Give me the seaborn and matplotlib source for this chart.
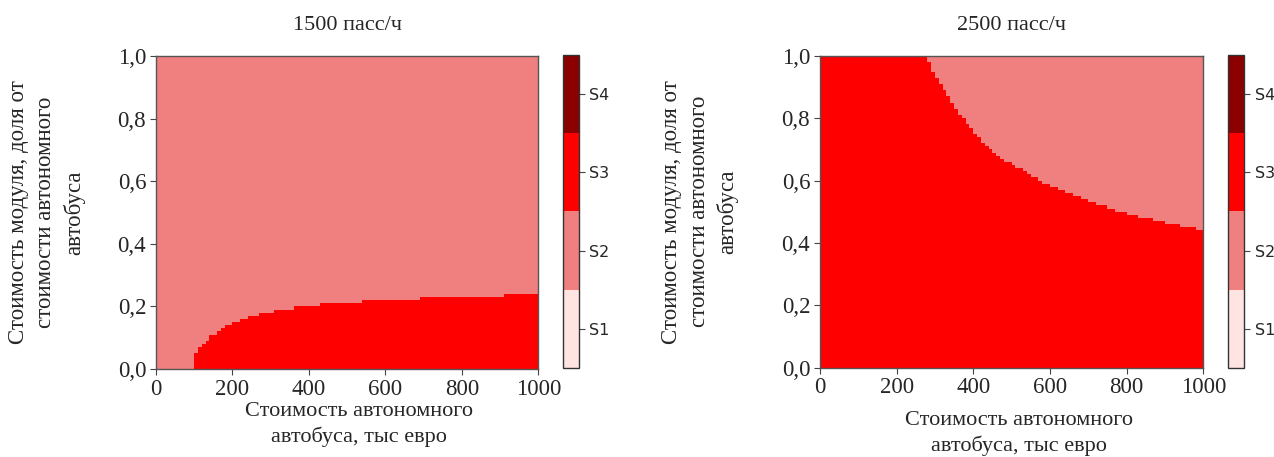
import numpy as np
import pandas as pd
import matplotlib.pyplot as plt
import seaborn as sns
from matplotlib.colors import ListedColormap

# axis ticks
x_ticks = [0, 200, 400, 600, 800, 1000]
y_ticks = ['0,0', '0,2', '0,4', '0,6', '0,8', '1,0']
state_labels = ['S1', 'S2', 'S3', 'S4']
state_colors = ['mistyrose', 'lightcoral', 'red', 'darkred']

# grid of autonomous bus cost (x) and module cost share (y)
bus_cost = np.arange(5, 1000, 10)
module_share = np.arange(0.005, 1.0, 0.01)

# 1500 pass/h: boundary S3/S2 (step start cost, share below which S3)
left_step_x = [0, 100, 110, 120, 130, 140, 160, 170, 180, 200, 220, 240, 270, 310, 360, 430, 540, 690, 910]
left_step_y = [0.0, 0.05, 0.07, 0.08, 0.09, 0.11, 0.12, 0.13, 0.14, 0.15, 0.16, 0.17, 0.18, 0.19, 0.20, 0.21, 0.22, 0.23, 0.24]

# 2500 pass/h: boundary S3/S2
right_step_x = [0, 280, 290, 300, 310, 320, 330, 340, 350, 360, 370, 380, 390, 400, 410, 420, 430, 440, 450,
                460, 470, 480, 500, 510, 530, 540, 550, 570, 580, 600, 620, 640, 660, 680, 700, 720, 750, 770,
                800, 830, 870, 900, 940, 980]
right_step_y = [1.01, 0.98, 0.95, 0.93, 0.91, 0.89, 0.87, 0.85, 0.83, 0.81, 0.80, 0.78, 0.77, 0.75, 0.74, 0.72, 0.71,
                0.70, 0.69, 0.68, 0.67, 0.66, 0.65, 0.64, 0.63, 0.62, 0.61, 0.60, 0.59, 0.58, 0.57, 0.56, 0.55, 0.54,
                0.53, 0.52, 0.51, 0.50, 0.49, 0.48, 0.47, 0.46, 0.45, 0.44]

titles = ['1500 пасс/ч', '2500 пасс/ч']
xlabel = 'Стоимость автономного\nавтобуса, тыс евро'
ylabel = 'Стоимость модуля, доля от\nстоимости автономного\nавтобуса'


def state_grid(step_x, step_y):
    idx = np.searchsorted(step_x, bus_cost, side='right') - 1
    bound = np.array(step_y)[idx]
    grid = np.where(module_share[:, None] < bound[None, :], 3, 2)
    return pd.DataFrame(grid, index=module_share, columns=bus_cost)


grids = [state_grid(left_step_x, left_step_y), state_grid(right_step_x, right_step_y)]

sns.set_style('white')
plt.rcParams['font.family'] = ['Liberation Serif', 'DejaVu Serif']

fig = plt.figure(figsize=(12.74, 4.57), dpi=100)
cmap = ListedColormap(state_colors)

ax_pos = [[0.1224, 0.1926, 0.3001, 0.6849], [0.6436, 0.1958, 0.3009, 0.6818]]
cbar_pos = [[0.4417, 0.1948, 0.0126, 0.6849], [0.9641, 0.1948, 0.0126, 0.6849]]
xlab_y = [-0.105, -0.14]
ylab_x = [-0.185, -0.212]

for k in range(2):
    ax = fig.add_axes(ax_pos[k])
    cax = fig.add_axes(cbar_pos[k])
    sns.heatmap(grids[k], cmap=cmap, vmin=0.5, vmax=4.5, ax=ax, cbar_ax=cax,
                xticklabels=False, yticklabels=False)
    ax.invert_yaxis()
    n = len(bus_cost)
    ax.set_xticks(np.linspace(0, n, len(x_ticks)))
    ax.set_xticklabels([str(t) for t in x_ticks], fontsize=16.5, rotation=0)
    ax.set_yticks(np.linspace(0, len(module_share), len(y_ticks)))
    ax.set_yticklabels(y_ticks, fontsize=16.5, rotation=0)
    ax.tick_params(axis='both', length=4, width=0.8, color='#444444', pad=3, bottom=True, left=True)
    for s in ax.spines.values():
        s.set_visible(True)
        s.set_color('#555555')
        s.set_linewidth(1.0)
    ax.set_title(titles[k], fontsize=16, pad=19)
    ax.set_xlabel(xlabel, fontsize=16, linespacing=1.35)
    ax.xaxis.set_label_coords(0.53 if k == 0 else 0.52, xlab_y[k])
    ax.set_ylabel(ylabel, fontsize=16.5, linespacing=1.4)
    ax.yaxis.set_label_coords(ylab_x[k], 0.5)

    cbar = ax.collections[0].colorbar
    cbar.set_ticks([1, 2, 3, 4])
    cbar.set_ticklabels(state_labels)
    for t in cax.get_yticklabels():
        t.set_fontfamily('DejaVu Sans')
        t.set_fontsize(11.5)
    cax.tick_params(length=4, width=0.8, color='#444444')
    cbar.outline.set_visible(True)
    cbar.outline.set_edgecolor('#333333')
    cbar.outline.set_linewidth(1.0)

plt.savefig('out.png', dpi=100)
